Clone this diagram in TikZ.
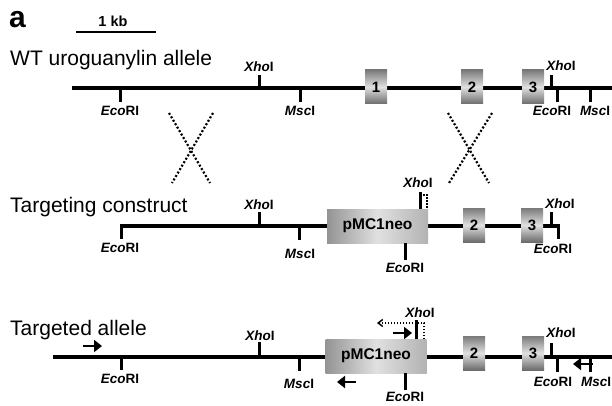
\documentclass[tikz,border=0pt]{standalone}
\usepackage{fontspec}
\setmainfont{Liberation Sans}
\usetikzlibrary{arrows.meta}

% restriction site names: italic genus part, upright enzyme number
\newcommand{\siteXho}{\textit{Xho}I}
\newcommand{\siteEco}{\textit{Eco}RI}
\newcommand{\siteMsc}{\textit{Msc}I}

\begin{document}
\begin{tikzpicture}[x=1pt,y=-1pt,
  dna/.style={line width=3.2pt},
  cut/.style={line width=3pt},
  lbl/.style={font=\fontsize{13.5}{13.5}\selectfont\bfseries, inner sep=0pt},
  rowtitle/.style={font=\fontsize{21}{21}\selectfont, anchor=base west, inner sep=0pt},
  exon/.style={minimum width=22pt, minimum height=34pt, inner sep=0pt,
    top color=black!52, bottom color=black!58, middle color=black!12,
    font=\fontsize{15}{15}\selectfont\bfseries},
  neo/.style={minimum width=101pt, minimum height=34pt, inner sep=0pt,
    left color=black!42, right color=black!30, middle color=black!12,
    font=\fontsize{15.5}{15.5}\selectfont\bfseries},
  xover/.style={line width=2.2pt, dash pattern=on 2pt off 2pt},
  guide/.style={line width=1.5pt, dash pattern=on 1.5pt off 1.5pt},
  primer/.style={line width=2.8pt, -{Triangle[length=8pt,width=12pt]}},
]
\useasboundingbox (0,0) rectangle (612,406);

% panel letter and scale bar
\node[anchor=base west, inner sep=0pt, font=\fontsize{30}{30}\selectfont\bfseries] (panel) at (9,28) {a};
\coordinate (barL) at (76,32);
\coordinate (barR) at (156,32);
\draw[line width=2pt] (barL) -- (barR);
\node[font=\fontsize{14.5}{14.5}\selectfont\bfseries, inner sep=0pt] (barlbl) at (113,21) {1 kb};

% ---------- wild-type allele ----------
\node[rowtitle] (t1) at (10,66) {WT uroguanylin allele};
\coordinate (w0) at (72,88);
\coordinate (w1) at (612,88);
\draw[dna] (w0) -- (w1);
\draw[cut] (120,88) -- (120,102);
\draw[cut] (259,88) -- (259,75);
\draw[cut] (300,88) -- (300,102);
\draw[cut] (551,88) -- (551,75);
\draw[cut] (557,88) -- (557,102);
\draw[cut] (590,88) -- (590,102);
\node[exon] (w_e1) at (376,87) {1};
\node[exon] (w_e2) at (472,87) {2};
\node[exon] (w_e3) at (533,87) {3};
\node[lbl] (w_eco1) at (120,111) {\siteEco};
\node[lbl] (w_xho1) at (259,67) {\siteXho};
\node[lbl] (w_msc1) at (300,111) {\siteMsc};
\node[lbl] (w_xho2) at (561,66) {\siteXho};
\node[lbl] (w_eco2) at (552,111) {\siteEco};
\node[lbl] (w_msc2) at (595,111) {\siteMsc};

% homologous recombination crossovers
\draw[xover] (169,113) -- (210,183);
\draw[xover] (213,113) -- (172,183);
\draw[xover] (448,113) -- (489,183);
\draw[xover] (492,113) -- (449,183);

% ---------- targeting construct ----------
\node[rowtitle] (t2) at (10,212) {Targeting construct};
\coordinate (c0) at (121,226);
\coordinate (c1) at (560,226);
\draw[dna] (c0) -- (c1);
\draw[cut] (121,224.4) -- (121,239);
\draw[cut] (259,226) -- (259,212);
\draw[cut] (299,226) -- (299,240);
\draw[cut] (551,226) -- (551,212);
\draw[cut] (558,226) -- (558,239);
\node[neo] (c_neo) at (377.5,226) {pMC1neo};
\draw[cut] (420,209) -- (420,192);
\draw[cut] (405,243) -- (405,260);
\draw[guide] (423,195) -- (427,195) -- (427,209);
\node[exon] (c_e2) at (474,225) {2};
\node[exon] (c_e3) at (532,225) {3};
\node[lbl] (c_eco1) at (120,248) {\siteEco};
\node[lbl] (c_xho1) at (259,205) {\siteXho};
\node[lbl] (c_msc1) at (300,254) {\siteMsc};
\node[lbl] (c_xho2) at (418,183) {\siteXho};
\node[lbl] (c_eco2) at (405,268) {\siteEco};
\node[lbl] (c_xho3) at (560,204) {\siteXho};
\node[lbl] (c_eco3) at (553,249) {\siteEco};

% ---------- targeted allele ----------
\node[rowtitle] (t3) at (10,335) {Targeted allele};
\coordinate (a0) at (53,357);
\coordinate (a1) at (612,357);
\draw[dna] (a0) -- (a1);
\draw[cut] (121,357) -- (121,370);
\draw[cut] (259,357) -- (259,342);
\draw[cut] (299,357) -- (299,371);
\draw[cut] (551,357) -- (551,343);
\draw[cut] (557,357) -- (557,372);
\draw[cut] (590,355) -- (590,372);
\node[neo] (a_neo) at (376,356) {pMC1neo};
\draw[cut] (416,339) -- (416,320);
\draw[cut] (405,373) -- (405,390);
\node[exon] (a_e2) at (474,353) {2};
\node[exon] (a_e3) at (533,353) {3};
\node[lbl] (a_eco1) at (120,379) {\siteEco};
\node[lbl] (a_xho1) at (260,336) {\siteXho};
\node[lbl] (a_msc1) at (299,384) {\siteMsc};
\node[lbl] (a_xho2) at (420,313) {\siteXho};
\node[lbl] (a_eco2) at (405,397) {\siteEco};
\node[lbl] (a_xho3) at (561,333) {\siteXho};
\node[lbl] (a_eco3) at (553,382) {\siteEco};
\node[lbl] (a_msc2) at (596,382) {\siteMsc};

% PCR primers
\coordinate (p1s) at (83,346);  \coordinate (p1e) at (102,346);
\coordinate (p2s) at (393,333); \coordinate (p2e) at (412,333);
\coordinate (p3s) at (356,382); \coordinate (p3e) at (337,382);
\coordinate (p4s) at (593,364); \coordinate (p4e) at (573,364);
\draw[primer] (p1s) -- (p1e);
\draw[primer] (p2s) -- (p2e);
\draw[primer] (p3s) -- (p3e);
\draw[primer] (p4s) -- (p4e);
\coordinate (g0) at (424,339);
\coordinate (g1) at (377,323);
\draw[guide, -{Straight Barb[length=4.5pt,width=7pt]}] (g0) |- (g1);
\end{tikzpicture}
\end{document}
